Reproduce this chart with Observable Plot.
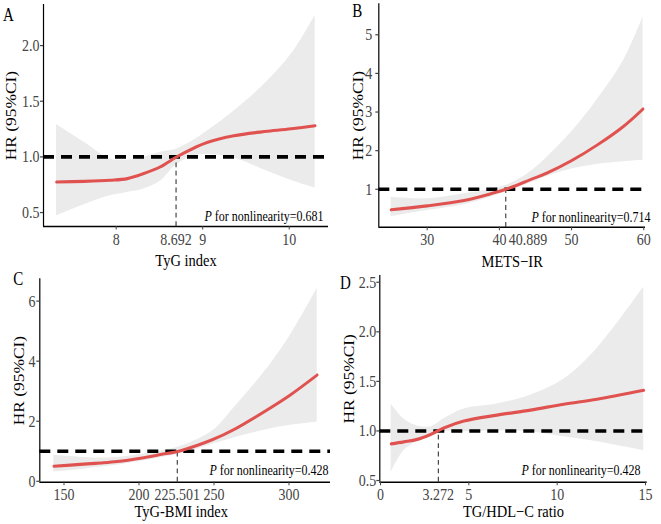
<!DOCTYPE html>
<html><head><meta charset="utf-8">
<script src="https://cdn.jsdelivr.net/npm/d3@7"></script>
<script src="https://cdn.jsdelivr.net/npm/@observablehq/plot@0.6"></script>
<style>
html,body{margin:0;background:#fff;}
#outer{position:relative;width:661px;height:524px;}
#fig{position:absolute;left:0;top:0;width:661px;height:436.67px;transform:scale(1,1.2);transform-origin:0 0;}
#fig svg{position:absolute;overflow:visible;}
</style></head><body><div id="outer"><div id="fig"></div></div>
<script>
// ---------- data ----------
// Panel A: TyG index
const aX     = [7.31, 7.63, 7.93, 8.13, 8.32, 8.51, 8.70, 8.90, 9.05, 9.36, 9.75, 10.05, 10.30];
const aHR    = [0.775, 0.78, 0.79, 0.805, 0.85, 0.91, 1.0, 1.08, 1.13, 1.19, 1.23, 1.255, 1.28];
const aUpper = [1.29, 1.13, 0.98, 0.97, 0.995, 1.04, 1.07, 1.15, 1.23, 1.41, 1.68, 1.95, 2.27];
const aLower = [0.47, 0.57, 0.65, 0.68, 0.71, 0.78, 0.93, 1.01, 1.02, 0.99, 0.87, 0.78, 0.72];
const aXTicks = [8, 9, 10];
const aYTicks = [0.5, 1.0, 1.5, 2.0];
// Panel B: METS-IR
const bX     = [25.0, 30, 35.1, 38.9, 41.5, 44.3, 46.6, 50, 53.5, 57.2, 59.9];
const bHR    = [0.47, 0.57, 0.71, 0.89, 1.04, 1.25, 1.42, 1.74, 2.14, 2.63, 3.08];
const bUpper = [0.79, 0.75, 0.88, 1.0, 1.14, 1.45, 1.83, 2.48, 3.30, 4.33, 5.46];
const bLower = [0.29, 0.45, 0.60, 0.80, 0.97, 1.16, 1.33, 1.52, 1.64, 1.71, 1.75];
const bXTicks = [30, 40, 50, 60];
const bYTicks = [1, 2, 3, 4, 5];
// Panel C: TyG-BMI index
const cX     = [143.2, 163, 174.3, 185.5, 201, 214.3, 227.7, 249.2, 263.2, 285.5, 301, 318.8];
const cHR    = [0.50, 0.57, 0.61, 0.66, 0.77, 0.89, 1.02, 1.39, 1.72, 2.38, 2.88, 3.54];
const cUpper = [0.86, 0.79, 0.77, 0.79, 0.89, 1.0, 1.16, 1.68, 2.44, 3.76, 4.87, 6.42];
const cLower = [0.31, 0.40, 0.47, 0.53, 0.66, 0.78, 0.91, 1.24, 1.44, 1.72, 1.86, 1.96];
const cXTicks = [150, 200, 250, 300];
const cYTicks = [0, 2, 4, 6];
// Panel D: TG/HDL-C ratio
const dX     = [0.6, 1.32, 2.08, 2.83, 3.58, 4.72, 6.6, 8.49, 10.37, 12.26, 14.9];
const dHR    = [0.87, 0.89, 0.915, 0.965, 1.03, 1.10, 1.16, 1.21, 1.27, 1.32, 1.41];
const dUpper = [1.27, 1.12, 1.05, 1.04, 1.12, 1.22, 1.27, 1.36, 1.52, 1.83, 2.45];
const dLower = [0.58, 0.80, 0.89, 0.94, 0.99, 0.99, 1.0, 0.99, 0.94, 0.89, 0.80];
const dXTicks = [0, 5, 10, 15];
const dYTicks = [0.5, 1.0, 1.5, 2.0, 2.5];

const letters = ["A", "B", "C", "D"];
const xTitles = ["TyG index", "METS\u2212IR", "TyG-BMI index", "TG/HDL\u2212C ratio"];
const yTitle = "HR (95%CI)";
const cutValues = [8.692, 40.889, 225.501, 3.272];
const cutLabels = ["8.692", "40.889", "225.501", "3.272"];
const pTexts = ["P for nonlinearity=0.681", "P for nonlinearity=0.714", "P for nonlinearity=0.428", "P for nonlinearity=0.428"];

// ---------- layout ----------
const K = 1.2;
const FONT = "'Liberation Serif', 'Times New Roman', serif";
const panels = [
  {left:0, top:0, w:330, h:272, x0:43, x1:328, yTop:4, yBot:226,
   xDomain:[7.160, 10.454], yDomain:[0.374, 2.368], x:aX, hr:aHR, up:aUpper, lo:aLower,
   xTicks:aXTicks, yTicks:aYTicks, fmt:d3.format(".1f"), yPad:1, yTitleDx:-31.7, xTitleDy:33.1, xTitleDx:0,
   cutAnchor:"middle", cutDx:0, letterDx:-35, letterDy:13.4, pDx:-5, pDy:-4.4},
  {left:330, top:0, w:331, h:272, x0:378.3, x1:645, yTop:3.3, yBot:226.7,
   xDomain:[23.30, 60.24], yDomain:[0.016, 5.80], x:bX, hr:bHR, up:bUpper, lo:bLower,
   xTicks:bXTicks, yTicks:bYTicks, fmt:d3.format("d"), yPad:3.5, yTitleDx:-20.8, xTitleDy:33.3, xTitleDx:0,
   cutAnchor:"start", cutDx:3, letterDx:-21.6, letterDy:11.1, pDx:5, pDy:-4.2},
  {left:0, top:262, w:335, h:262, x0:39.3, x1:330, yTop:278.7, yBot:482,
   xDomain:[133.87, 327.67], yDomain:[-0.03, 6.74], x:cX, hr:cHR, up:cUpper, lo:cLower,
   xTicks:cXTicks, yTicks:cYTicks, fmt:d3.format("d"), yPad:1.3, yTitleDx:-20.3, xTitleDy:28.9, xTitleDx:-4,
   cutAnchor:"middle", cutDx:0, letterDx:-21.6, letterDy:5.5, pDx:-2, pDy:-5.6},
  {left:330, top:262, w:331, h:262, x0:379.3, x1:646.7, yTop:275.3, yBot:482,
   xDomain:[-0.04, 15.096], yDomain:[0.483, 2.568], x:dX, hr:dHR, up:dUpper, lo:dLower,
   xTicks:dXTicks, yTicks:dYTicks, fmt:d3.format(".1f"), yPad:0.5, yTitleDx:-30.3, xTitleDy:28.9, xTitleDx:0,
   cutAnchor:"middle", cutDx:0, letterDx:-34.3, letterDy:11.1, pDx:-6.7, pDy:-5.6}
];

const fig = document.getElementById("fig");
panels.forEach((c, i) => {
  const ml = c.x0 - c.left, mr = c.left + c.w - c.x1;
  const mt = (c.yTop - c.top) / K, mb = (c.top + c.h - c.yBot) / K;
  const rows = c.x.map((x, j) => ({x, hr: c.hr[j], lo: c.lo[j], up: c.up[j]}));
  const ymin = c.yDomain[0];
  const ymid = (c.yDomain[0] + c.yDomain[1]) / 2;
  const svg = Plot.plot({
    width: c.w, height: c.h / K,
    marginLeft: ml, marginRight: mr, marginTop: mt, marginBottom: mb,
    x: {domain: c.xDomain}, y: {domain: c.yDomain},
    style: {fontFamily: FONT, fontSize: "14px", background: "transparent", overflow: "visible"},
    marks: [
      Plot.areaY(rows, {x: "x", y1: "lo", y2: "up", fill: "#ebebeb", curve: "catmull-rom"}),
      Plot.ruleY([1], {stroke: "black", strokeWidth: 3, strokeDasharray: "11,7"}),
      Plot.ruleX([cutValues[i]], {x: d => d, y1: () => ymin, y2: () => 1, stroke: "#222", strokeWidth: 1, strokeDasharray: "4,3"}),
      Plot.line(rows, {x: "x", y: "hr", stroke: "#e0524f", strokeWidth: 2.6, curve: "catmull-rom"}),
      Plot.ruleX([c.xDomain[0]], {stroke: "black", strokeWidth: 1.2}),
      Plot.ruleY([ymin], {stroke: "black", strokeWidth: 1.2}),
      Plot.axisX({ticks: c.xTicks, tickSize: 3, tickPadding: 2, label: null, fontSize: 14, color: "#444", tickFormat: d3.format("d")}),
      Plot.axisY({ticks: c.yTicks, tickSize: 3, tickPadding: c.yPad, label: null, fontSize: 14, color: "#444", tickFormat: c.fmt}),
      Plot.text([cutLabels[i]], {x: () => cutValues[i], text: d => d, frameAnchor: "bottom", lineAnchor: "top", dy: 5, dx: c.cutDx, textAnchor: c.cutAnchor, fontSize: 14, fill: "#444"}),
      Plot.text([xTitles[i]], {text: d => d, frameAnchor: "bottom", textAnchor: "middle", lineAnchor: "bottom", dy: c.xTitleDy, dx: c.xTitleDx, fontSize: 14.5, fill: "black"}),
      Plot.text([yTitle], {x: () => c.xDomain[0], y: () => ymid, text: d => d, rotate: -90, textAnchor: "middle", lineAnchor: "middle", dx: c.yTitleDx, fontSize: 14.5, fill: "black"}),
      Plot.text([letters[i]], {text: d => d, frameAnchor: "top-left", textAnchor: "middle", lineAnchor: "bottom", dx: c.letterDx, dy: c.letterDy, fontSize: 15, fill: "black"}),
      Plot.text([pTexts[i]], {text: d => d, frameAnchor: "bottom-right", textAnchor: "end", lineAnchor: "bottom", dx: c.pDx, dy: c.pDy, fontSize: 12, fill: "black"})
    ]
  });
  svg.style.left = c.left + "px";
  svg.style.top = (c.top / K) + "px";
  svg.querySelectorAll("text").forEach(t => {
    const s = t.textContent;
    if (s.startsWith("P for")) {
      t.textContent = "";
      const ts = document.createElementNS("http://www.w3.org/2000/svg", "tspan");
      ts.setAttribute("font-style", "italic");
      ts.textContent = "P";
      t.appendChild(ts);
      t.appendChild(document.createTextNode(s.slice(1)));
    }
  });
  fig.appendChild(svg);
});
</script></body></html>
